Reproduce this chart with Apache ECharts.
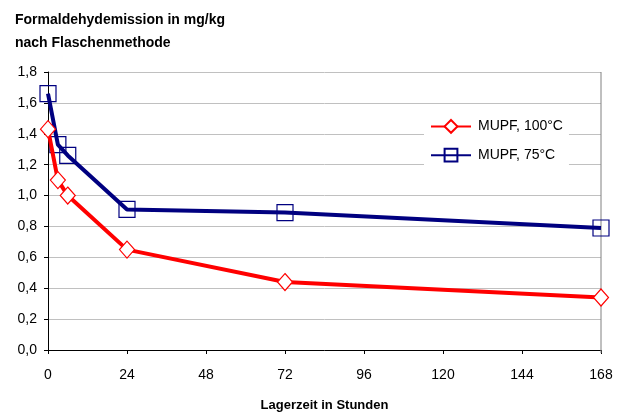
<!DOCTYPE html>
<html><head><meta charset="utf-8">
<script src="https://cdn.jsdelivr.net/npm/echarts@6/dist/echarts.min.js"></script>
<style>html,body{margin:0;padding:0;background:#fff}#c{width:629px;height:417px}</style>
</head><body><div id="c"></div>
<script>
var hours = [0, 3, 6, 24, 72, 168];
var mupf100 = [1.43, 1.10, 1.00, 0.65, 0.44, 0.34];
var mupf75 = [1.66, 1.33, 1.26, 0.91, 0.89, 0.79];
var xTicks = [0, 24, 48, 72, 96, 120, 144, 168];
var seriesNames = ['MUPF, 100°C', 'MUPF, 75°C'];

function pairs(xs, ys){ return xs.map(function(x,i){return [x, ys[i]];}); }
var font = 'Liberation Sans, Arial, sans-serif';
var chart = echarts.init(document.getElementById('c'));
chart.setOption({
  animation: false,
  textStyle: {fontFamily: font},
  title: {
    text: 'Formaldehydemission in mg/kg\nnach Flaschenmethode',
    left: 10, top: 4,
    textStyle: {fontSize: 14, fontWeight: 'bold', color: '#000', lineHeight: 23, fontFamily: font}
  },
  legend: {
    orient: 'vertical', left: 424, top: 115,
    backgroundColor: '#fff', padding: [4, 6, 4, 6],
    itemWidth: 40, itemHeight: 16, itemGap: 14,
    textStyle: {fontSize: 14, color: '#000', fontFamily: font, padding: [0, 0, 0, 2]},
    data: seriesNames
  },
  grid: {left: 48, right: 28, top: 72, bottom: 64},
  xAxis: {
    type: 'value', min: 0, max: 168, interval: 24,
    name: 'Lagerzeit in Stunden', nameLocation: 'middle', nameGap: 49,
    nameTextStyle: {fontSize: 13, fontWeight: 'bold', color: '#000', fontFamily: font},
    axisLine: {lineStyle: {color: '#000', width: 1}},
    axisTick: {show: true, length: 4, lineStyle: {color: '#000'}},
    axisLabel: {fontSize: 14, color: '#000', margin: 18, fontFamily: font},
    splitLine: {show: false}
  },
  yAxis: {
    type: 'value', min: 0, max: 1.8, interval: 0.2,
    axisLine: {show: true, lineStyle: {color: '#000', width: 1}},
    axisTick: {show: true, length: 4, lineStyle: {color: '#000'}},
    axisLabel: {fontSize: 14, color: '#000', margin: 11, fontFamily: font,
      formatter: function(v){ return v.toFixed(1).replace('.', ','); }},
    splitLine: {show: true, lineStyle: {color: '#c0c0c0', width: 1}}
  },
  graphic: [{
    type: 'line', shape: {x1: 601, y1: 72, x2: 601, y2: 353},
    style: {stroke: '#808080', lineWidth: 1}, z: 1
  }],
  series: [{
    name: seriesNames[0], type: 'line', data: pairs(hours, mupf100),
    symbol: 'diamond', symbolSize: [15, 17],
    lineStyle: {color: '#ff0000', width: 4},
    itemStyle: {color: '#fff', borderColor: '#ff0000', borderWidth: 1.2},
    z: 3
  }, {
    name: seriesNames[1], type: 'line', data: pairs(hours, mupf75),
    symbol: 'rect', symbolSize: 16,
    lineStyle: {color: '#000080', width: 4},
    itemStyle: {color: 'rgba(255,255,255,0)', borderColor: '#000080', borderWidth: 1.2},
    z: 2
  }]
});
</script></body></html>
